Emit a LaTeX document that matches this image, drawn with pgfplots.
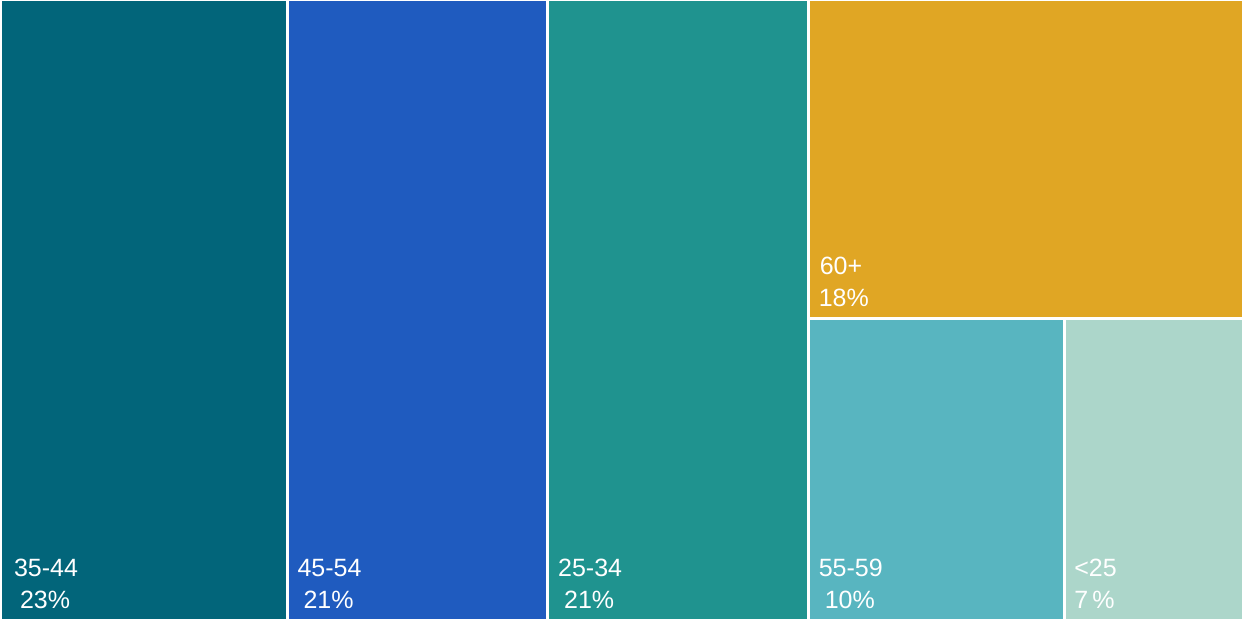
\documentclass[border=0pt]{standalone}
\usepackage{pgfplots}
\pgfplotsset{compat=1.18}
\usepackage{fontspec}
\setmainfont{Liberation Sans}
\definecolor{cA}{HTML}{02657A}
\definecolor{cB}{HTML}{1F5BBF}
\definecolor{cC}{HTML}{1F938F}
\definecolor{cD}{HTML}{E0A624}
\definecolor{cE}{HTML}{58B5C0}
\definecolor{cF}{HTML}{ACD6CA}
\tikzset{lab/.style={anchor=base west, text=white, font=\fontsize{25}{29}\selectfont, inner sep=0pt}}
\begin{document}
\begin{tikzpicture}
\begin{axis}[
  width=1243pt, height=620pt, scale only axis,
  xmin=-0.15, xmax=100, ymin=0, ymax=100,
  y dir=reverse, hide axis,
  every axis plot/.append style={draw=white, line width=3pt},
]
% 35-44: 23%
\addplot[fill=cA] coordinates {(-0.15,0) (23,0) (23,100) (-0.15,100) (-0.15,0)};
% 45-54: 21%
\addplot[fill=cB] coordinates {(23,0) (44,0) (44,100) (23,100) (23,0)};
% 25-34: 21%
\addplot[fill=cC] coordinates {(44,0) (65,0) (65,100) (44,100) (44,0)};
% 60+: 18%
\addplot[fill=cD] coordinates {(65,0) (100,0) (100,51.43) (65,51.43) (65,0)};
% 55-59: 10%
\addplot[fill=cE] coordinates {(65,100) (65,51.43) (85.59,51.43) (85.59,100) (65,100)};
% <25: 7%
\addplot[fill=cF] coordinates {(85.59,100) (85.59,51.43) (100,51.43) (100,100) (85.59,100)};

\coordinate (SW) at (axis cs:-0.15,100);
\coordinate (NE) at (axis cs:100,0);

\node[lab, xshift=12pt, yshift=44pt] at (axis cs:0,100) {35-44};
\node[lab, xshift=18pt, yshift=12pt] at (axis cs:0,100) {23\%};
\node[lab, xshift=10pt, yshift=44pt] at (axis cs:23,100) {45-54};
\node[lab, xshift=16pt, yshift=12pt] at (axis cs:23,100) {21\%};
\node[lab, xshift=10pt, yshift=44pt] at (axis cs:44,100) {25-34};
\node[lab, xshift=16pt, yshift=12pt] at (axis cs:44,100) {21\%};
\node[lab, xshift=11pt, yshift=44pt] at (axis cs:65,51.43) {60+};
\node[lab, xshift=10pt, yshift=12pt] at (axis cs:65,51.43) {18\%};
\node[lab, xshift=10pt, yshift=44pt] at (axis cs:65,100) {55-59};
\node[lab, xshift=16pt, yshift=12pt] at (axis cs:65,100) {10\%};
\node[lab, xshift=10pt, yshift=44pt] at (axis cs:85.59,100) {<25};
\node[lab, xshift=10pt, yshift=12pt] at (axis cs:85.59,100) {7\,\%};
\end{axis}
\pgfresetboundingbox
\path (SW) rectangle (NE);
\end{tikzpicture}
\end{document}
